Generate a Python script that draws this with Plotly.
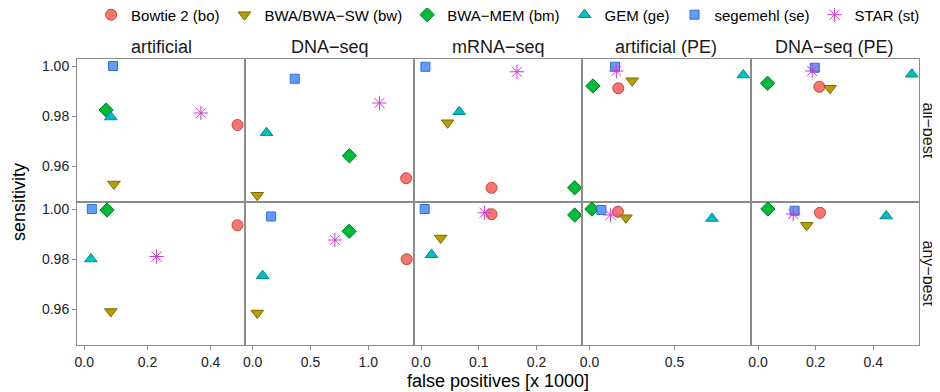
import plotly.graph_objects as go
from plotly.subplots import make_subplots

datasets = ["artificial", "DNA\u2212seq", "mRNA\u2212seq", "artificial (PE)", "DNA\u2212seq (PE)"]
modes = ["all\u2212best", "any\u2212best"]

aligners = ["Bowtie 2 (bo)", "BWA/BWA\u2212SW (bw)", "BWA\u2212MEM (bm)", "GEM (ge)", "segemehl (se)", "STAR (st)"]

# false positives [x 1000] and sensitivity, per aligner, per dataset (5 columns)
fp_allbest = {
    "Bowtie 2 (bo)":      [0.485, 1.328, 0.122, 0.169, 0.213],
    "BWA/BWA\u2212SW (bw)": [0.094, 0.040, 0.046, 0.251, 0.250],
    "BWA\u2212MEM (bm)":  [0.069, 0.837, 0.266, 0.020, 0.033],
    "GEM (ge)":           [0.084, 0.120, 0.066, 0.904, 0.534],
    "segemehl (se)":      [0.091, 0.364, 0.0075, 0.150, 0.197],
    "STAR (st)":          [0.369, 1.097, 0.166, 0.158, 0.188],
}
sens_allbest = {
    "Bowtie 2 (bo)":      [0.9764, 0.9551, 0.9513, 0.9911, 0.9917],
    "BWA/BWA\u2212SW (bw)": [0.9528, 0.9483, 0.9773, 0.9941, 0.9911],
    "BWA\u2212MEM (bm)":  [0.9824, 0.9641, 0.9513, 0.9920, 0.9931],
    "GEM (ge)":           [0.9796, 0.9733, 0.9817, 0.9964, 0.9967],
    "segemehl (se)":      [1.0000, 0.9949, 0.9997, 0.9997, 0.9993],
    "STAR (st)":          [0.9812, 0.9852, 0.9977, 0.9980, 0.9980],
}
fp_anybest = {
    "Bowtie 2 (bo)":      [0.485, 1.332, 0.122, 0.167, 0.215],
    "BWA/BWA\u2212SW (bw)": [0.084, 0.040, 0.034, 0.214, 0.169],
    "BWA\u2212MEM (bm)":  [0.072, 0.835, 0.266, 0.014, 0.034],
    "GEM (ge)":           [0.021, 0.086, 0.018, 0.720, 0.445],
    "segemehl (se)":      [0.024, 0.160, 0.0063, 0.070, 0.127],
    "STAR (st)":          [0.229, 0.711, 0.110, 0.123, 0.122],
}
sens_anybest = {
    "Bowtie 2 (bo)":      [0.9935, 0.9799, 0.9979, 0.9989, 0.9985],
    "BWA/BWA\u2212SW (bw)": [0.9590, 0.9584, 0.9884, 0.9965, 0.9935],
    "BWA\u2212MEM (bm)":  [0.9996, 0.9911, 0.9976, 1.0000, 1.0000],
    "GEM (ge)":           [0.9800, 0.9733, 0.9817, 0.9962, 0.9972],
    "segemehl (se)":      [1.0000, 0.9970, 1.0000, 0.9996, 0.9993],
    "STAR (st)":          [0.9810, 0.9876, 0.9985, 0.9976, 0.9980],
}

x_ticks = [[0.0, 0.2, 0.4], [0.0, 0.5, 1.0], [0.0, 0.1, 0.2], [0.0, 0.5], [0.0, 0.2, 0.4]]
x_ranges = [[-0.023, 0.51], [-0.063, 1.394], [-0.0126, 0.279], [-0.043, 0.947], [-0.026, 0.559]]
y_ticks = [0.96, 0.98, 1.00]
y_range = [0.9456, 1.0028]

styles = {
    "Bowtie 2 (bo)":      dict(symbol="circle", color="#F8766D", line="#C4453D", size=11),
    "BWA/BWA\u2212SW (bw)": dict(symbol="triangle-down", color="#B79F00", line="#7A6A00", size=11),
    "BWA\u2212MEM (bm)":  dict(symbol="diamond", color="#00BA38", line="#007A24", size=11),
    "GEM (ge)":           dict(symbol="triangle-up", color="#00BFC4", line="#008B8F", size=11),
    "segemehl (se)":      dict(symbol="square", color="#619CFF", line="#2E6FD6", size=9),
    "STAR (st)":          dict(symbol="asterisk-open", color="#D03CD0", line="#D03CD0", size=12),
}

fig = make_subplots(rows=2, cols=5, horizontal_spacing=0, vertical_spacing=0)

for a in aligners:
    st = styles[a]
    for r, (fpd, sd) in enumerate([(fp_allbest, sens_allbest), (fp_anybest, sens_anybest)]):
        for c in range(5):
            fig.add_trace(go.Scatter(
                x=[fpd[a][c]], y=[sd[a][c]], mode="markers", name=a,
                legendgroup=a, showlegend=(r == 0 and c == 0),
                marker=dict(symbol=st["symbol"], size=st["size"], color=st["color"],
                            line=dict(color=st["line"], width=1)),
                hoverinfo="x+y+name",
            ), row=r + 1, col=c + 1)

line_col = "#8c8c8c"
for r in range(2):
    for c in range(5):
        fig.update_xaxes(range=x_ranges[c], tickvals=x_ticks[c],
                         ticktext=["%.1f" % v for v in x_ticks[c]],
                         showticklabels=(r == 1), ticks="outside" if r == 1 else "",
                         ticklen=4, tickcolor=line_col,
                         showline=True, mirror=True, linecolor=line_col, linewidth=1,
                         showgrid=False, zeroline=False,
                         tickfont=dict(size=14, color="#222"),
                         row=r + 1, col=c + 1)
        fig.update_yaxes(range=y_range, tickvals=y_ticks,
                         ticktext=["%.2f" % v for v in y_ticks],
                         showticklabels=(c == 0), ticks="outside" if c == 0 else "",
                         ticklen=4, tickcolor=line_col,
                         showline=True, mirror=True, linecolor=line_col, linewidth=1,
                         showgrid=False, zeroline=False,
                         tickfont=dict(size=14, color="#222"),
                         row=r + 1, col=c + 1)

annotations = []
for c, name in enumerate(datasets):
    annotations.append(dict(text=name, x=(c + 0.5) / 5, y=1.0, xref="paper", yref="paper",
                            xanchor="center", yanchor="bottom", yshift=0, showarrow=False,
                            font=dict(size=18, color="#1a1a1a")))
for r, name in enumerate(modes):
    annotations.append(dict(text=name, x=1.0, y=0.75 - 0.5 * r, xref="paper", yref="paper",
                            xanchor="center", yanchor="middle", xshift=9, textangle=90,
                            showarrow=False, font=dict(size=16, color="#1a1a1a")))
annotations.append(dict(text="false positives [x 1000]", x=0.5, y=0, xref="paper", yref="paper",
                        xanchor="center", yanchor="top", yshift=-24, showarrow=False,
                        font=dict(size=18, color="#000")))
annotations.append(dict(text="sensitivity", x=0, y=0.5, xref="paper", yref="paper",
                        xanchor="right", yanchor="middle", xshift=-46, textangle=-90,
                        showarrow=False, font=dict(size=18, color="#000")))

# page body has an 8px margin, so the figure is slightly smaller than the window
fig.update_layout(
    width=932, height=384,
    margin=dict(l=69, r=21, t=51, b=47, autoexpand=False),
    paper_bgcolor="white", plot_bgcolor="white",
    font=dict(family="Liberation Sans, Arial, sans-serif", size=14, color="#000"),
    annotations=annotations,
    legend=dict(orientation="h", x=0.512, xanchor="center", y=1.154, yanchor="middle",
                font=dict(size=15), bgcolor="rgba(0,0,0,0)"),
)

fig.write_html("out.html")
